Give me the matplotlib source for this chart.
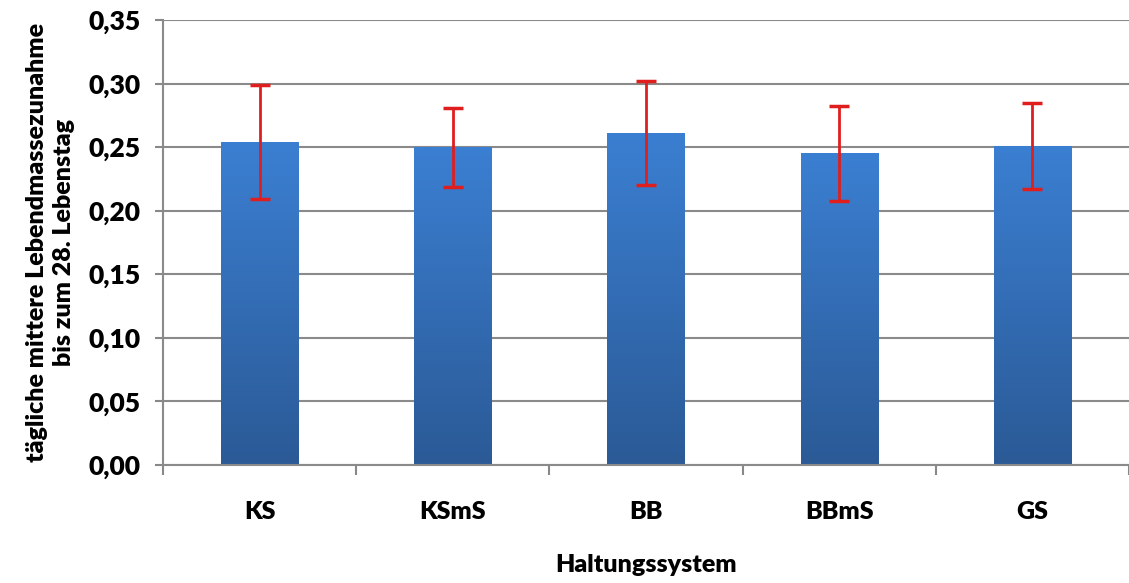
import numpy as np
import matplotlib
matplotlib.use('Agg')
import matplotlib.pyplot as plt
from matplotlib.colors import LinearSegmentedColormap

categories = ["KS", "KSmS", "BB", "BBmS", "GS"]
values = [0.254, 0.250, 0.261, 0.245, 0.251]
errors = [0.045, 0.031, 0.041, 0.037, 0.034]

plt.rcParams['font.family'] = ['Lato', 'DejaVu Sans']
plt.rcParams['font.weight'] = 'bold'

fig = plt.figure(figsize=(11.29, 5.83), dpi=100)
ax = fig.add_axes([0.1444, 0.2024, 0.8556, 0.7633])

pos = np.arange(len(categories))
bars = ax.bar(pos, values, width=0.4, color='#3a78c8', zorder=2)

# vertical gradient on each bar (light top, dark bottom)
cmap = LinearSegmentedColormap.from_list('bluegrad', ['#2b5a96', '#3b7fd2'])
grad = np.linspace(0, 1, 256).reshape(-1, 1)
for b in bars:
    x0, y0 = b.get_x(), b.get_y()
    w, h = b.get_width(), b.get_height()
    im = ax.imshow(grad, cmap=cmap, aspect='auto', origin='lower',
                   extent=(x0, x0 + w, y0, y0 + h), zorder=2)
    im.set_clip_path(b)
    b.set_facecolor('none')

ax.errorbar(pos, values, yerr=errors, fmt='none', ecolor='#e01e1e',
            elinewidth=2, capsize=7, capthick=2.5, zorder=3)

ax.set_xlim(-0.5, 4.5)
ax.set_ylim(0, 0.35)
yt = np.arange(0, 0.351, 0.05)
ax.set_yticks(yt)
ax.set_yticklabels([('%.2f' % v).replace('.', ',') for v in yt], fontsize=19, fontweight='heavy')
ax.set_xticks(pos)
ax.set_xticklabels(categories, fontsize=18, fontweight='heavy')
ax.set_xticks(np.arange(-0.5, 4.6, 1.0), minor=True)
ax.tick_params(axis='x', which='major', length=0, pad=26)
ax.tick_params(axis='x', which='minor', length=7, width=1.5, color='#888888')
ax.tick_params(axis='y', length=6, width=1.5, color='#888888', pad=10)

ax.yaxis.grid(True, color='#8a8a8a', linewidth=1.5, zorder=0)
ax.set_axisbelow(True)
for s in ['top', 'right']:
    ax.spines[s].set_visible(False)
for s in ['left', 'bottom']:
    ax.spines[s].set_color('#8a8a8a')
    ax.spines[s].set_linewidth(1.5)

ax.set_ylabel('tägliche mittere Lebendmassezunahme\nbis zum 28. Lebenstag',
              fontsize=18, fontweight='heavy', labelpad=10, linespacing=1.25)
ax.set_xlabel('Haltungssystem', fontsize=18, fontweight='heavy', labelpad=22)

plt.savefig('out.png', dpi=100)
